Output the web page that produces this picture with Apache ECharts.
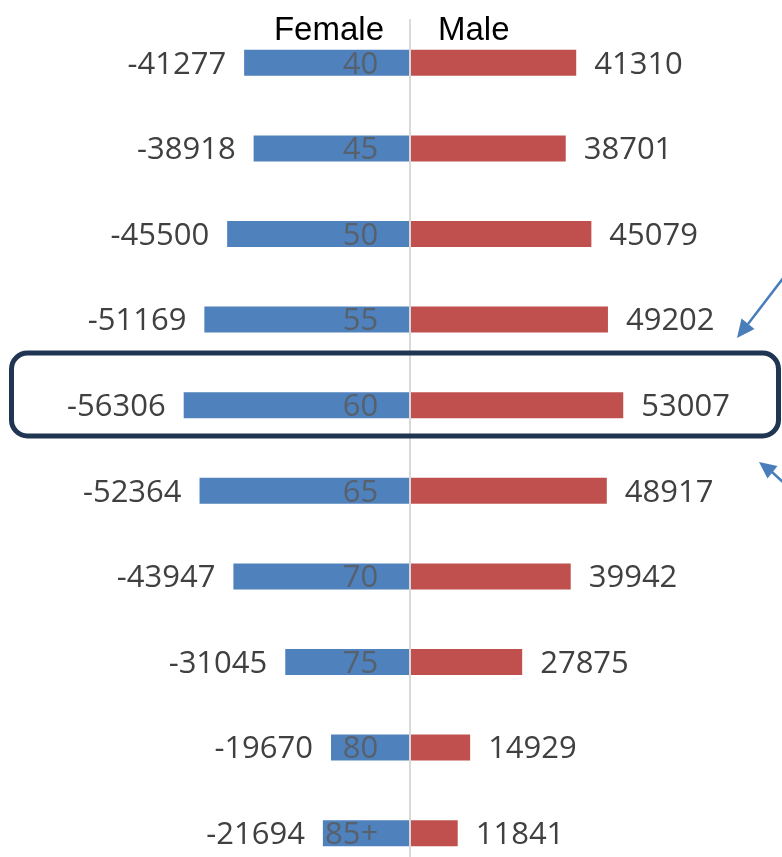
<!DOCTYPE html>
<html>
<head>
<meta charset="utf-8">
<script src="https://cdn.jsdelivr.net/npm/echarts@6/dist/echarts.min.js"></script>
<style>
html,body{margin:0;padding:0;background:#fff;}
#chart{width:782px;height:857px;}
</style>
</head>
<body>
<div id="chart"></div>
<script>
var categories = ['40','45','50','55','60','65','70','75','80','85+'];
var femaleValues = [-41277,-38918,-45500,-51169,-56306,-52364,-43947,-31045,-19670,-21694];
var maleValues = [41310,38701,45079,49202,53007,48917,39942,27875,14929,11841];
var seriesNames = ['Female','Male'];

var chart = echarts.init(document.getElementById('chart'), null, {renderer:'canvas'});
var labelFont = "'Open Sans', 'Noto Sans', sans-serif";

var option = {
  animation: false,
  backgroundColor: '#ffffff',
  grid: { left: 8, top: 20, width: 764, height: 856, containLabel: false, outerBoundsMode: 'none' },
  xAxis: {
    type: 'value', min: -100000, max: 90000, show: false,
    splitLine: { show: false }
  },
  yAxis: {
    type: 'category', data: categories, inverse: true, z: 5,
    axisLine: { show: true, onZero: true, lineStyle: { color: '#d9d9d9', width: 2 } },
    axisTick: { show: false },
    axisLabel: { show: false },
    splitLine: { show: false }
  },
  series: [
    {
      name: seriesNames[0], type: 'bar', data: femaleValues, barWidth: 26, barGap: '-100%',
      itemStyle: { color: '#4f81bd' },
      label: { show: true, position: 'left', distance: 18, offset: [0, 2], color: '#404040', fontSize: 31, fontFamily: labelFont }
    },
    {
      name: seriesNames[1], type: 'bar', data: maleValues, barWidth: 26, barGap: '-100%',
      itemStyle: { color: '#c0504d' },
      label: { show: true, position: 'right', distance: 18, offset: [0, 2], color: '#404040', fontSize: 31, fontFamily: labelFont }
    },
    {
      name: 'Age', type: 'scatter', z: 6, symbolSize: 0, silent: true,
      data: categories.map(function (c) { return [0, c]; }),
      label: {
        show: true, position: 'left', distance: 32, offset: [0, 2], color: '#595959', fontSize: 31, fontFamily: labelFont,
        formatter: function (p) { return p.value[1]; }
      }
    }
  ],
  graphic: [
    { type: 'text', x: 384, y: 31, z: 10,
      style: { text: seriesNames[0], fill: '#000', font: "33px 'Liberation Sans', Arial, sans-serif", textAlign: 'right', textVerticalAlign: 'middle' } },
    { type: 'text', x: 438, y: 31, z: 10,
      style: { text: seriesNames[1], fill: '#000', font: "33px 'Liberation Sans', Arial, sans-serif", textAlign: 'left', textVerticalAlign: 'middle' } },
    { type: 'rect', z: 20,
      shape: { x: 11.5, y: 353, width: 767, height: 83, r: 16 },
      style: { fill: 'none', stroke: '#1f3552', lineWidth: 5 } },
    { type: 'line', z: 20,
      shape: { x1: 784, y1: 277, x2: 748, y2: 324 },
      style: { stroke: '#4a7ebb', lineWidth: 2.5 } },
    { type: 'polygon', z: 20,
      shape: { points: [[737, 338], [754.5, 329], [741.5, 318.5]] },
      style: { fill: '#4a7ebb' } },
    { type: 'line', z: 20,
      shape: { x1: 786, y1: 485, x2: 772, y2: 472 },
      style: { stroke: '#4a7ebb', lineWidth: 2.5 } },
    { type: 'polygon', z: 20,
      shape: { points: [[759, 462], [767.5, 478.5], [777.5, 466]] },
      style: { fill: '#4a7ebb' } }
  ]
};
chart.setOption(option);
</script>
</body>
</html>
